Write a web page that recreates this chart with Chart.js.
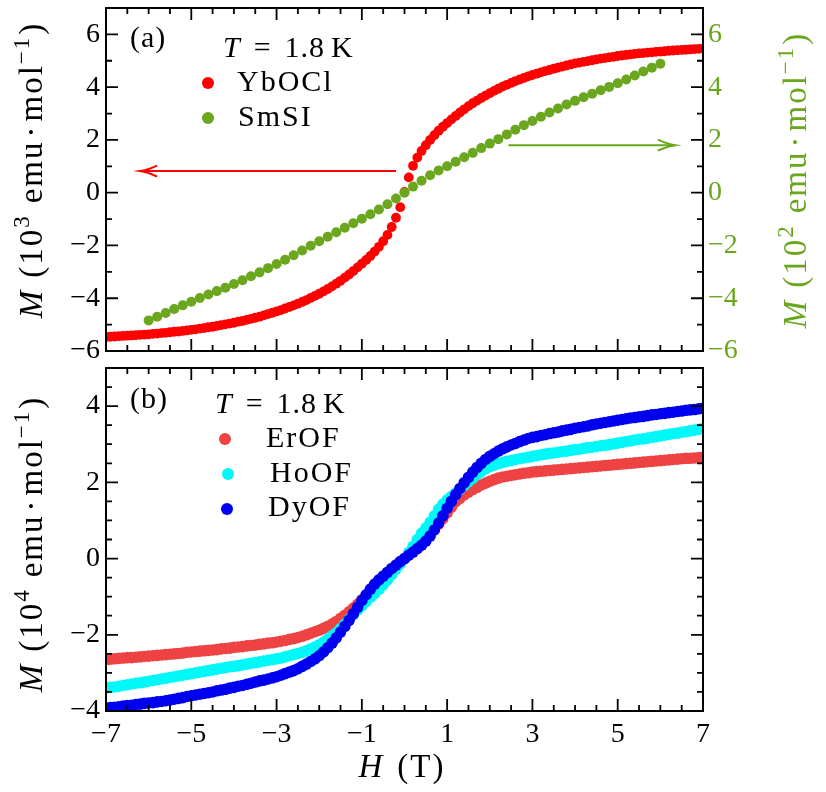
<!DOCTYPE html>
<html><head><meta charset="utf-8">
<script src="https://cdn.jsdelivr.net/npm/chart.js@4.4.1/dist/chart.umd.min.js"></script>
<style>
html,body{margin:0;padding:0;background:#fff;}
#wrap{position:relative;width:826px;height:792px;background:#fff;}
#cA{position:absolute;left:0;top:0;}
#cB{position:absolute;left:0;top:360px;}
</style></head><body>
<div id="wrap"><canvas id="cB" width="826" height="432"></canvas><canvas id="cA" width="826" height="366"></canvas></div>
<script>
// ---------------- data ----------------
const H_fine = [-7,-6.9,-6.8,-6.7,-6.6,-6.5,-6.4,-6.3,-6.2,-6.1,-6,-5.9,-5.8,-5.7,-5.6,-5.5,-5.4,-5.3,-5.2,-5.1,-5,-4.9,-4.8,-4.7,-4.6,-4.5,-4.4,-4.3,-4.2,-4.1,-4,-3.9,-3.8,-3.7,-3.6,-3.5,-3.4,-3.3,-3.2,-3.1,-3,-2.9,-2.8,-2.7,-2.6,-2.5,-2.4,-2.3,-2.2,-2.1,-2,-1.9,-1.8,-1.7,-1.6,-1.5,-1.4,-1.3,-1.2,-1.1,-1,-0.9,-0.8,-0.7,-0.6,-0.5,-0.4,-0.3,-0.2,-0.1,0,0.1,0.2,0.3,0.4,0.5,0.6,0.7,0.8,0.9,1,1.1,1.2,1.3,1.4,1.5,1.6,1.7,1.8,1.9,2,2.1,2.2,2.3,2.4,2.5,2.6,2.7,2.8,2.9,3,3.1,3.2,3.3,3.4,3.5,3.6,3.7,3.8,3.9,4,4.1,4.2,4.3,4.4,4.5,4.6,4.7,4.8,4.9,5,5.1,5.2,5.3,5.4,5.5,5.6,5.7,5.8,5.9,6,6.1,6.2,6.3,6.4,6.5,6.6,6.7,6.8,6.9,7];
const H_SmSI = [-6,-5.8,-5.6,-5.4,-5.2,-5,-4.8,-4.6,-4.4,-4.2,-4,-3.8,-3.6,-3.4,-3.2,-3,-2.8,-2.6,-2.4,-2.2,-2,-1.8,-1.6,-1.4,-1.2,-1,-0.8,-0.6,-0.4,-0.2,0,0.2,0.4,0.6,0.8,1,1.2,1.4,1.6,1.8,2,2.2,2.4,2.6,2.8,3,3.2,3.4,3.6,3.8,4,4.2,4.4,4.6,4.8,5,5.2,5.4,5.6,5.8,6];

// YbOCl, 10^3 emu/mol
const M_YbOCl = [-5.47,-5.46,-5.45,-5.44,-5.43,-5.42,-5.41,-5.4,-5.39,-5.38,-5.37,-5.35,-5.34,-5.32,-5.31,-5.29,-5.27,-5.26,-5.24,-5.22,-5.2,-5.18,-5.15,-5.13,-5.1,-5.08,-5.05,-5.02,-4.99,-4.96,-4.93,-4.89,-4.86,-4.82,-4.78,-4.74,-4.7,-4.65,-4.6,-4.55,-4.5,-4.45,-4.39,-4.33,-4.27,-4.21,-4.14,-4.07,-3.99,-3.91,-3.83,-3.74,-3.65,-3.55,-3.45,-3.34,-3.22,-3.1,-2.97,-2.83,-2.69,-2.55,-2.4,-2.23,-2.05,-1.84,-1.6,-1.3,-0.95,-0.55,
0.03,
0.58,1.02,1.33,1.58,1.8,2.0,2.18,2.35,2.5,2.64,2.78,2.91,3.04,3.16,3.28,3.39,3.49,3.59,3.68,3.77,3.86,3.94,4.02,4.09,4.16,4.23,4.29,4.35,4.41,4.46,4.51,4.56,4.61,4.65,4.7,4.74,4.78,4.82,4.86,4.9,4.93,4.96,4.99,5.02,5.05,5.08,5.1,5.13,5.15,5.18,5.2,5.22,5.24,5.26,5.28,5.29,5.31,5.32,5.34,5.35,5.36,5.38,5.39,5.4,5.41,5.42,5.43,5.44,5.45,5.46];
// SmSI, 10^2 emu/mol
const M_SmSI = [-4.84,-4.7,-4.56,-4.41,-4.27,-4.13,-3.99,-3.86,-3.73,-3.6,-3.46,-3.32,-3.17,-3.02,-2.86,-2.7,-2.54,-2.37,-2.19,-2.01,-1.84,-1.67,-1.5,-1.33,-1.16,-0.99,-0.82,-0.64,-0.44,-0.22,
0,
0.23,0.45,0.66,0.84,1.0,1.17,1.34,1.51,1.69,1.86,2.03,2.21,2.39,2.56,2.72,2.88,3.04,3.19,3.34,3.48,3.62,3.75,3.88,4.01,4.15,4.29,4.44,4.59,4.74,4.89];
// ErOF, HoOF, DyOF, 10^4 emu/mol
const M_ErOF = [-2.65,-2.64,-2.63,-2.62,-2.61,-2.6,-2.6,-2.59,-2.58,-2.57,-2.56,-2.55,-2.54,-2.53,-2.52,-2.51,-2.5,-2.49,-2.48,-2.46,-2.45,-2.44,-2.43,-2.42,-2.41,-2.4,-2.39,-2.37,-2.36,-2.35,-2.33,-2.32,-2.31,-2.29,-2.28,-2.27,-2.25,-2.24,-2.22,-2.21,-2.19,-2.17,-2.15,-2.12,-2.1,-2.07,-2.04,-2.0,-1.96,-1.92,-1.88,-1.83,-1.78,-1.72,-1.65,-1.57,-1.49,-1.4,-1.3,-1.2,-1.08,-0.96,-0.84,-0.72,-0.6,-0.49,-0.39,-0.29,-0.19,-0.1,
0,
0.1,0.2,0.3,0.41,0.52,0.64,0.77,0.9,1.05,1.2,1.35,1.49,1.58,1.67,1.74,1.81,1.87,1.93,1.98,2.03,2.07,2.11,2.14,2.16,2.18,2.2,2.22,2.24,2.25,2.27,2.28,2.29,2.3,2.31,2.32,2.33,2.34,2.35,2.36,2.37,2.38,2.39,2.4,2.41,2.42,2.43,2.44,2.45,2.46,2.47,2.48,2.49,2.5,2.51,2.52,2.53,2.54,2.55,2.56,2.57,2.58,2.59,2.6,2.61,2.62,2.63,2.63,2.64,2.65,2.66];
const M_HoOF = [-3.4,-3.38,-3.37,-3.35,-3.33,-3.31,-3.29,-3.27,-3.26,-3.24,-3.22,-3.2,-3.18,-3.16,-3.14,-3.12,-3.1,-3.08,-3.06,-3.04,-3.02,-3.0,-2.98,-2.96,-2.94,-2.92,-2.9,-2.88,-2.86,-2.84,-2.83,-2.81,-2.79,-2.77,-2.75,-2.73,-2.71,-2.69,-2.67,-2.65,-2.63,-2.61,-2.58,-2.55,-2.52,-2.49,-2.46,-2.42,-2.37,-2.32,-2.26,-2.19,-2.11,-2.03,-1.94,-1.84,-1.72,-1.6,-1.47,-1.35,-1.24,-1.13,-1.02,-0.92,-0.81,-0.69,-0.56,-0.42,-0.28,-0.14,
0,
0.16,0.32,0.5,0.66,0.8,0.95,1.12,1.29,1.43,1.54,1.63,1.72,1.82,1.92,2.02,2.11,2.2,2.28,2.35,2.41,2.45,2.49,2.52,2.55,2.57,2.6,2.62,2.64,2.66,2.68,2.7,2.72,2.74,2.76,2.77,2.79,2.81,2.82,2.84,2.86,2.87,2.89,2.91,2.92,2.94,2.96,2.97,2.99,3.01,3.03,3.05,3.07,3.09,3.11,3.13,3.14,3.16,3.18,3.2,3.22,3.24,3.26,3.28,3.29,3.31,3.33,3.35,3.37,3.39,3.41];
const M_DyOF = [-3.92,-3.91,-3.9,-3.89,-3.87,-3.86,-3.85,-3.83,-3.82,-3.8,-3.79,-3.78,-3.76,-3.75,-3.73,-3.71,-3.69,-3.67,-3.65,-3.62,-3.6,-3.58,-3.56,-3.54,-3.52,-3.5,-3.47,-3.45,-3.43,-3.4,-3.38,-3.35,-3.33,-3.3,-3.27,-3.24,-3.21,-3.19,-3.16,-3.13,-3.1,-3.06,-3.02,-2.98,-2.94,-2.89,-2.83,-2.77,-2.7,-2.63,-2.55,-2.45,-2.34,-2.22,-2.08,-1.93,-1.78,-1.62,-1.45,-1.28,-1.1,-0.95,-0.8,-0.67,-0.56,-0.46,-0.36,-0.26,-0.17,-0.08,
0,
0.09,0.17,0.26,0.35,0.46,0.59,0.75,0.93,1.12,1.32,1.5,1.68,1.84,1.99,2.13,2.27,2.39,2.5,2.6,2.68,2.75,2.82,2.88,2.93,2.98,3.02,3.07,3.11,3.15,3.18,3.2,3.23,3.25,3.28,3.3,3.32,3.35,3.37,3.39,3.42,3.44,3.46,3.48,3.51,3.53,3.55,3.57,3.59,3.61,3.63,3.65,3.67,3.69,3.7,3.72,3.73,3.75,3.77,3.78,3.8,3.81,3.83,3.84,3.86,3.87,3.89,3.9,3.91,3.93,3.94];

const xTicks = [-7,-5,-3,-1,1,3,5,7];
const yTicksA = [-6,-4,-2,0,2,4,6];
const yTicksB = [-4,-2,0,2,4];

// ---------------- style ----------------
const FAM = '"Liberation Serif","Times New Roman",serif';
const GREEN = '#6aa61e';
const C_Yb = '#ff0000', C_Er = '#ef4242', C_Ho = '#00f8f8', C_Dy = '#0000f0';
function fnt(s,it){return (it?'italic ':'')+s+'px '+FAM;}
function runsW(ctx,runs){let w=0;runs.forEach(r=>{ctx.font=fnt(r.s,r.it);w+=ctx.measureText(r.t).width+(r.g||0);});return w;}
function drawRuns(ctx,runs,x,y,align,color,ls){
  ctx.save();ctx.fillStyle=color;ctx.textAlign='left';ctx.textBaseline='alphabetic';
  ctx.letterSpacing=(ls||0)+'px';
  const w=runsW(ctx,runs);let cx=align==='center'?x-w/2:x;
  runs.forEach(r=>{ctx.font=fnt(r.s,r.it);ctx.fillText(r.t,cx,y+(r.dy||0));cx+=ctx.measureText(r.t).width+(r.g||0);});
  ctx.restore();
}
function drawVert(ctx,runs,cx,cy,off,color,ls){ctx.save();ctx.translate(cx,cy);ctx.rotate(-Math.PI/2);drawRuns(ctx,runs,0,off,'center',color,ls);ctx.restore();}
function fmt(v){return v<0?'\u2212'+(-v):String(v);}
function titleRuns(p){return [{t:'M',s:33,it:1,g:11},{t:'(10',s:33},{t:p,s:23,dy:-13,g:11},{t:'emu',s:33,g:3},{t:'\u00b7',s:33,g:3},{t:'mol',s:33},{t:'\u22121',s:23,dy:-13,g:1},{t:')',s:33}];}
function tempRuns(){return [{t:'T',s:30,it:1,g:13},{t:'=',s:30,g:13},{t:'1.8',s:30,g:6},{t:'K',s:30}];}

function innerTicks(chart,yScaleId,yMin,yMax,yStep,yMajor){
  const ctx=chart.ctx,a=chart.chartArea,xs=chart.scales.x,ys=chart.scales[yScaleId];
  ctx.save();ctx.strokeStyle='#000';ctx.lineWidth=1.8;ctx.beginPath();
  for(let k=0;k<=28;k++){const v=-7+k*0.5;const p=xs.getPixelForValue(v);const L=xTicks.includes(v)?12:6;
    ctx.moveTo(p,a.bottom);ctx.lineTo(p,a.bottom-L);ctx.moveTo(p,a.top);ctx.lineTo(p,a.top+L);}
  const n=Math.round((yMax-yMin)/yStep);
  for(let k=0;k<=n;k++){const v=yMin+k*yStep;const p=ys.getPixelForValue(v);const L=yMajor.includes(v)?12:6;
    ctx.moveTo(a.left,p);ctx.lineTo(a.left+L,p);ctx.moveTo(a.right,p);ctx.lineTo(a.right-L,p);}
  ctx.stroke();
  ctx.lineWidth=2;ctx.strokeRect(a.left,a.top,a.right-a.left,a.bottom-a.top);
  ctx.restore();
}
function arrowH(ctx,x1,x2,y,color){
  ctx.save();ctx.strokeStyle=color;ctx.lineWidth=2;ctx.beginPath();ctx.moveTo(x1,y);ctx.lineTo(x2,y);ctx.stroke();
  const d=Math.sign(x1-x2);ctx.beginPath();ctx.moveTo(x2+d*17,y-5.5);ctx.quadraticCurveTo(x2+d*7,y-1,x2,y);ctx.quadraticCurveTo(x2+d*7,y+1,x2+d*17,y+5.5);ctx.stroke();ctx.restore();
}
function dot(ctx,x,y,r,c){ctx.save();ctx.fillStyle=c;ctx.beginPath();ctx.arc(x,y,r,0,Math.PI*2);ctx.fill();ctx.restore();}

// annotation positions in data units
const arrowYb = {x1:-0.2, x2:-6.2, y:0.82};   // left axis
const arrowSm = {x1:2.44, x2:6.34, y:1.8};    // right axis

function pts(xs,ys){return xs.map((x,i)=>({x:x,y:ys[i]}));}
const tickFont = {family:FAM,size:28};

const commonX = (h)=>({type:'linear',min:-7,max:7,position:'bottom',
  afterBuildTicks:s=>{s.ticks=xTicks.map(v=>({value:v}));},
  ticks:{display:h>20,font:tickFont,color:'#000',padding:7,maxRotation:0,autoSkip:false,callback:fmt},
  grid:{display:false,drawTicks:false},border:{display:false},
  afterFit:s=>{s.height=h;s.paddingLeft=0;s.paddingRight=0;}});
const yAxis = (min,max,ticksArr,pos,color,w)=>({type:'linear',min:min,max:max,position:pos,
  afterBuildTicks:s=>{s.ticks=ticksArr.map(v=>({value:v}));},
  ticks:{font:tickFont,color:color,padding:pos==='left'?6:5,callback:fmt,autoSkip:false},
  grid:{display:false,drawTicks:false},border:{display:false},
  afterFit:s=>{s.width=w;s.paddingTop=0;s.paddingBottom=0;}});

const plugA = {id:'decoA',afterDatasetsDraw(chart){
  const ctx=chart.ctx,s=chart.scales;
  innerTicks(chart,'y',-6,7,1,yTicksA);
  arrowH(ctx,s.x.getPixelForValue(arrowYb.x1),s.x.getPixelForValue(arrowYb.x2),s.y.getPixelForValue(arrowYb.y),C_Yb);
  arrowH(ctx,s.x.getPixelForValue(arrowSm.x1),s.x.getPixelForValue(arrowSm.x2),s.y2.getPixelForValue(arrowSm.y),GREEN);
  drawRuns(ctx,[{t:'(a)',s:30}],130,47,'left','#000',1);
  drawRuns(ctx,tempRuns(),223,57,'left','#000',1);
  dot(ctx,208,83,6,C_Yb);drawRuns(ctx,[{t:'YbOCl',s:30}],237,91,'left','#000',2);
  dot(ctx,208,118,6,GREEN);drawRuns(ctx,[{t:'SmSI',s:30}],238,126,'left','#000',2);
  drawVert(ctx,titleRuns('3'),34,170,8,'#000',2);
  drawVert(ctx,titleRuns('2'),798,180,8,GREEN,2);
}};
const plugB = {id:'decoB',afterDatasetsDraw(chart){
  const ctx=chart.ctx;
  innerTicks(chart,'y',-4,5,0.5,yTicksB);
  drawRuns(ctx,[{t:'(b)',s:30}],130,48,'left','#000',1);
  drawRuns(ctx,tempRuns(),215,53,'left','#000',1);
  dot(ctx,225,79,6,C_Er);drawRuns(ctx,[{t:'ErOF',s:30}],266,87,'left','#000',2);
  dot(ctx,228,114,6,C_Ho);drawRuns(ctx,[{t:'HoOF',s:30}],270,122,'left','#000',2);
  dot(ctx,227,149,6,C_Dy);drawRuns(ctx,[{t:'DyOF',s:30}],268,156,'left','#000',2);
  drawVert(ctx,titleRuns('4'),34,184,8,'#000',2);
  drawRuns(ctx,[{t:'H',s:33,it:1,g:13},{t:'(T)',s:33}],402,417,'center','#000',2);
}};

const base = {responsive:false,animation:false,events:[],plugins:{legend:{display:false},tooltip:{enabled:false}}};
const ds = (label,data,color,r,order,axis)=>({label:label,data:data,backgroundColor:color,borderColor:color,pointRadius:r,pointBorderWidth:0,pointHoverRadius:r,showLine:false,clip:0,order:order,yAxisID:axis});

new Chart(document.getElementById('cA'),{type:'scatter',
  data:{datasets:[ds('YbOCl',pts(H_fine,M_YbOCl),C_Yb,4.9,1,'y'),ds('SmSI',pts(H_SmSI,M_SmSI),GREEN,5,0,'y2')]},
  options:Object.assign({},base,{layout:{padding:{top:8,left:0,right:0,bottom:0}},
    scales:{x:commonX(15),y:yAxis(-6,7,yTicksA,'left','#000',106),y2:yAxis(-6,7,yTicksA,'right',GREEN,123)}}),
  plugins:[plugA]});

new Chart(document.getElementById('cB'),{type:'scatter',
  data:{datasets:[ds('ErOF',pts(H_fine,M_ErOF),C_Er,5.8,2,'y'),ds('HoOF',pts(H_fine,M_HoOF),C_Ho,5.8,1,'y'),ds('DyOF',pts(H_fine,M_DyOF),C_Dy,5.8,0,'y')]},
  options:Object.assign({},base,{layout:{padding:{top:8,left:0,right:123,bottom:0}},
    scales:{x:commonX(81),y:yAxis(-4,5,yTicksB,'left','#000',106)}}),
  plugins:[plugB]});
</script>
</body></html>
